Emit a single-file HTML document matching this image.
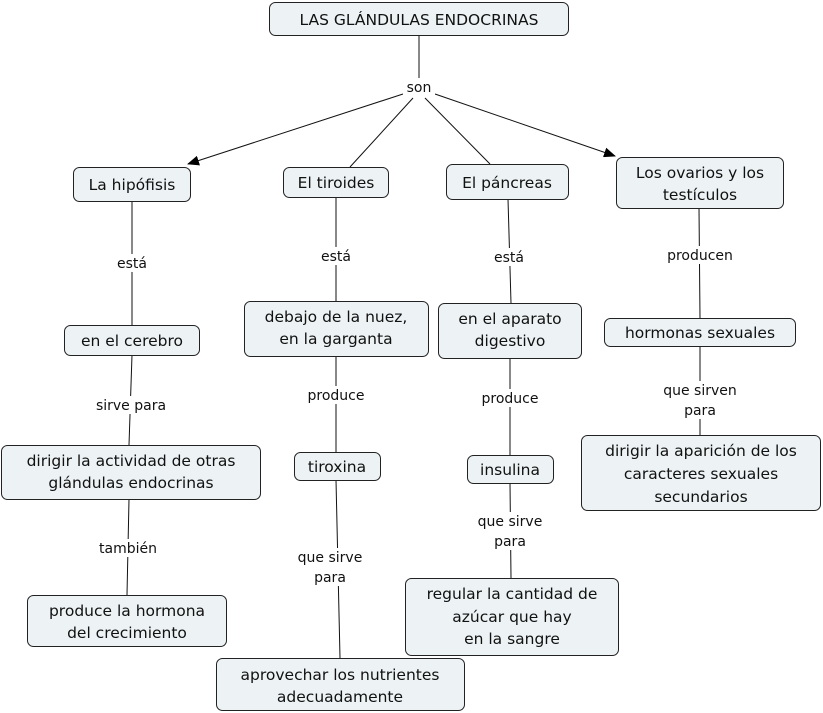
<!DOCTYPE html>
<html><head><meta charset="utf-8"><style>
html,body{margin:0;padding:0;background:#fff;width:823px;height:713px;overflow:hidden}
svg text{font-family:"DejaVu Sans","Liberation Sans",sans-serif;fill:#111}
.n{font-size:15.5px}
.l{font-size:14px}
rect{fill:#edf3f5;stroke:#222;stroke-width:1}
line{stroke:#111;stroke-width:1}
</style></head><body>
<svg width="823" height="713" viewBox="0 0 823 713" xmlns="http://www.w3.org/2000/svg">
<defs><marker id="a" markerWidth="12" markerHeight="10" refX="11" refY="5" orient="auto" markerUnits="userSpaceOnUse"><path d="M0,0 L12,5 L0,10 z" fill="#000"/></marker></defs>
<!-- connectors -->
<line x1="419" y1="35" x2="419" y2="80"/>
<line x1="403" y1="94" x2="188" y2="164" marker-end="url(#a)"/>
<line x1="413" y1="98" x2="350" y2="167"/>
<line x1="425" y1="98" x2="490" y2="164"/>
<line x1="435" y1="94" x2="615" y2="156" marker-end="url(#a)"/>
<line x1="132" y1="201" x2="132" y2="325"/>
<line x1="336" y1="197" x2="336" y2="301"/>
<line x1="508" y1="199" x2="511" y2="303"/>
<line x1="699" y1="208" x2="700" y2="318"/>
<line x1="132" y1="355" x2="129" y2="445"/>
<line x1="336" y1="356" x2="336" y2="452"/>
<line x1="510" y1="358" x2="510" y2="455"/>
<line x1="700" y1="346" x2="700" y2="435"/>
<line x1="129" y1="499" x2="127" y2="595"/>
<line x1="336" y1="480" x2="340" y2="658"/>
<line x1="510" y1="483" x2="511" y2="578"/>
<!-- link label backgrounds + text -->
<g fill="#fff">
<rect x="403" y="78" width="32" height="18" style="fill:#fff;stroke:none"/>
<rect x="112" y="254" width="40" height="18" style="fill:#fff;stroke:none"/>
<rect x="316" y="247" width="40" height="18" style="fill:#fff;stroke:none"/>
<rect x="489" y="248" width="40" height="18" style="fill:#fff;stroke:none"/>
<rect x="660" y="246" width="80" height="18" style="fill:#fff;stroke:none"/>
<rect x="88" y="396" width="86" height="18" style="fill:#fff;stroke:none"/>
<rect x="302" y="386" width="68" height="18" style="fill:#fff;stroke:none"/>
<rect x="476" y="389" width="68" height="18" style="fill:#fff;stroke:none"/>
<rect x="655" y="381" width="90" height="38" style="fill:#fff;stroke:none"/>
<rect x="92" y="539" width="72" height="18" style="fill:#fff;stroke:none"/>
<rect x="296" y="548" width="68" height="38" style="fill:#fff;stroke:none"/>
<rect x="470" y="512" width="80" height="38" style="fill:#fff;stroke:none"/>
</g>
<g class="l" text-anchor="middle">
<text x="419" y="92">son</text>
<text x="132" y="268">está</text>
<text x="336" y="261">está</text>
<text x="509" y="262">está</text>
<text x="700" y="260">producen</text>
<text x="131" y="410">sirve para</text>
<text x="336" y="400">produce</text>
<text x="510" y="403">produce</text>
<text x="700" y="395">que sirven</text><text x="700" y="415">para</text>
<text x="128" y="553">también</text>
<text x="330" y="562">que sirve</text><text x="330" y="582">para</text>
<text x="510" y="526">que sirve</text><text x="510" y="546">para</text>
</g>
<!-- nodes -->
<g>
<rect x="269.5" y="2.5" width="299" height="33" rx="6"/>
<rect x="73.5" y="167.5" width="117" height="34" rx="6"/>
<rect x="283.5" y="167.5" width="105" height="30" rx="6"/>
<rect x="446.5" y="164.5" width="122" height="35" rx="6"/>
<rect x="616.5" y="157.5" width="167" height="51" rx="6"/>
<rect x="64.5" y="325.5" width="135" height="30" rx="6"/>
<rect x="244.5" y="301.5" width="184" height="55" rx="6"/>
<rect x="438.5" y="303.5" width="143" height="55" rx="6"/>
<rect x="604.5" y="318.5" width="191" height="28" rx="6"/>
<rect x="1.5" y="445.5" width="259" height="54" rx="6"/>
<rect x="294.5" y="452.5" width="86" height="28" rx="6"/>
<rect x="467.5" y="455.5" width="86" height="28" rx="6"/>
<rect x="581.5" y="435.5" width="239" height="75" rx="6"/>
<rect x="27.5" y="595.5" width="199" height="51" rx="6"/>
<rect x="405.5" y="578.5" width="213" height="77" rx="6"/>
<rect x="216.5" y="658.5" width="248" height="52" rx="6"/>
</g>
<g class="n" text-anchor="middle">
<text x="419" y="25">LAS GLÁNDULAS ENDOCRINAS</text>
<text x="132" y="190">La hipófisis</text>
<text x="336" y="188">El tiroides</text>
<text x="507" y="188">El páncreas</text>
<text x="700" y="178">Los ovarios y los</text><text x="700" y="200">testículos</text>
<text x="132" y="346">en el cerebro</text>
<text x="336" y="322">debajo de la nuez,</text><text x="336" y="344">en la garganta</text>
<text x="510" y="324">en el aparato</text><text x="510" y="346">digestivo</text>
<text x="700" y="338">hormonas sexuales</text>
<text x="131" y="466">dirigir la actividad de otras</text><text x="131" y="488">glándulas endocrinas</text>
<text x="337" y="472">tiroxina</text>
<text x="510" y="475">insulina</text>
<text x="701" y="456">dirigir la aparición de los</text><text x="701" y="479">caracteres sexuales</text><text x="701" y="502">secundarios</text>
<text x="127" y="616">produce la hormona</text><text x="127" y="638">del crecimiento</text>
<text x="512" y="599">regular la cantidad de</text><text x="512" y="622">azúcar que hay</text><text x="512" y="644">en la sangre</text>
<text x="340" y="680">aprovechar los nutrientes</text><text x="340" y="702">adecuadamente</text>
</g>
</svg>
</body></html>
